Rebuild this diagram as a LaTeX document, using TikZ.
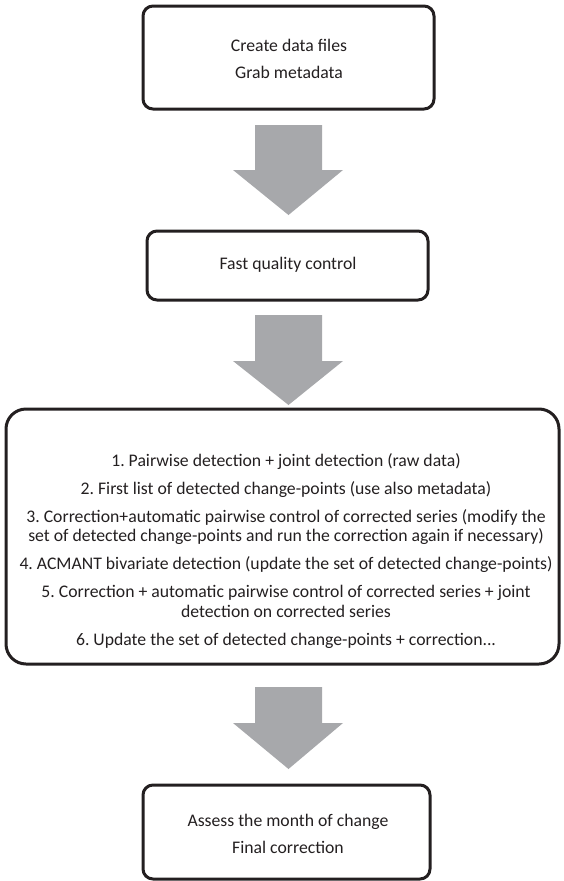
\documentclass[tikz,border=0pt]{standalone}
\usepackage{fontspec}
\setmainfont{Carlito}
\frenchspacing
\definecolor{boxline}{HTML}{231F20}
\definecolor{arrowgray}{HTML}{A7A8AB}
\definecolor{txt}{HTML}{231F20}
\begin{document}
\begin{tikzpicture}[x=1pt,y=-1pt,
  stepbox/.style={draw=boxline,line width=3pt,rounded corners=10pt},
  bigbox/.style={draw=boxline,line width=3pt,rounded corners=20pt},
  steptext/.style={align=center,text=txt,inner sep=0pt,font=\fontsize{17.7}{19.5}\selectfont\frenchspacing},
  blockarrow/.style={fill=arrowgray,draw=none}]
\useasboundingbox (0,0) rectangle (563,881);
% boxes
\draw[stepbox] (143,6) rectangle (434,109);
\draw[stepbox] (147,231) rectangle (428,300);
\draw[bigbox] (6,409) rectangle (559,664);
\draw[stepbox] (143,785) rectangle (430,879);
% texts
\node[steptext] (t1) at (289,58.5) {Create data files\\[7.5pt]Grab metadata};
\node[steptext] (t2) at (288,265) {Fast quality control};
\node[steptext] (t3) at (286,551) {1. Pairwise detection + joint detection (raw data)\\[8.5pt]
2. First list of detected change-points (use also metadata)\\[8.5pt]
3. Correction+automatic pairwise control of corrected series (modify the\\
set of detected change-points and run the correction again if necessary)\\[8.5pt]
4. ACMANT bivariate detection (update the set of detected change-points)\\[8.5pt]
5. Correction + automatic pairwise control of corrected series + joint\\
detection on corrected series\\[8.5pt]
6. Update the set of detected change-points + correction...};
\node[steptext] (t4) at (288,833.5) {Assess the month of change\\[7.5pt]Final correction};
% block arrows
\fill[blockarrow] (255,125) -- (322,125) -- (322,170) -- (343,170) -- (288.5,215) -- (233,170) -- (255,170) -- cycle;
\fill[blockarrow] (255,315) -- (322,315) -- (322,361) -- (343,361) -- (288.5,405) -- (233,361) -- (255,361) -- cycle;
\fill[blockarrow] (255,687) -- (322,687) -- (322,723) -- (343,723) -- (288.5,769) -- (233,723) -- (255,723) -- cycle;
\end{tikzpicture}
\end{document}
